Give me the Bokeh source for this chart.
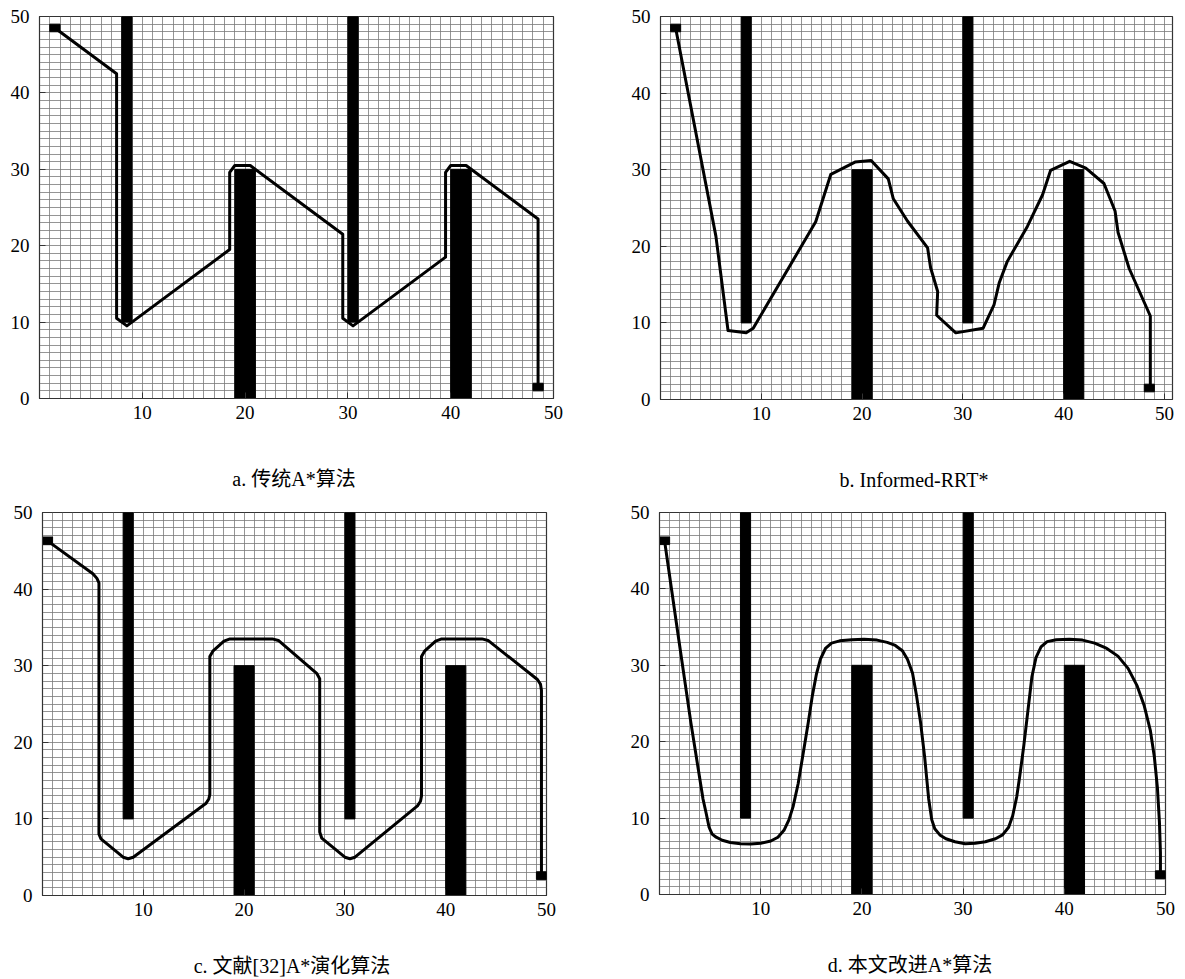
from bokeh.plotting import figure
from bokeh.layouts import column, row
from bokeh.models import FixedTicker, Title, Range1d
from bokeh.embed import file_html
from bokeh.resources import INLINE

# ---------------- data ----------------
obs_left = [8, 19, 30, 40]
obs_right = [9, 21, 31, 42]
obs_bottom = [10, 0, 10, 0]
obs_top = [50, 30, 50, 30]

x_ticks = [10, 20, 30, 40, 50]
y_ticks = [0, 10, 20, 30, 40, 50]

captions = ["a.  传统A*算法", "b.  Informed-RRT*", "c.  文献[32]A*演化算法", "d.  本文改进A*算法"]

# a. traditional A*
a_x = [1.5, 7.5, 7.5, 8.5, 18.5, 18.5, 19.0, 20.5, 29.5, 29.5, 30.5, 39.5, 39.5, 40.0, 41.5, 48.5, 48.5]
a_y = [48.5, 42.5, 10.5, 9.5, 19.5, 29.6, 30.5, 30.5, 21.5, 10.5, 9.5, 18.5, 29.6, 30.5, 30.5, 23.5, 1.5]
a_start = (1.5, 48.5)
a_goal = (48.5, 1.5)

# b. Informed-RRT*
b_x = [1.5, 5.5, 6.7, 8.5, 9.2, 15.4, 16.9, 19.3, 20.9, 22.6, 23.1, 24.5, 26.5, 26.8, 27.5, 27.4,
       29.3, 32.0, 33.1, 33.6, 34.4, 36.4, 37.9, 38.7, 40.6, 42.2, 44.0, 45.1, 45.4, 46.5, 48.6, 48.6]
b_y = [48.5, 21.3, 9.0, 8.7, 9.3, 23.2, 29.4, 31.0, 31.2, 28.8, 26.2, 23.3, 19.8, 17.2, 14.1, 11.0,
       8.7, 9.3, 12.4, 15.2, 18.0, 22.6, 26.7, 29.9, 31.1, 30.2, 28.2, 24.6, 21.8, 17.1, 10.9, 1.5]
b_start = (1.5, 48.5)
b_goal = (48.5, 1.5)

# c. reference [32] evolved A*
c_x = [0.5, 5.0, 5.4, 5.6, 5.6, 5.8, 8.0, 8.5, 9.0, 16.2, 16.5, 16.6, 16.6, 16.9, 18.0, 18.6,
       22.8, 23.4, 27.2, 27.5, 27.5, 27.7, 30.0, 30.5, 31.0, 37.2, 37.5, 37.6, 37.6, 37.9, 39.0,
       39.6, 43.6, 44.2, 49.1, 49.4, 49.5, 49.5]
c_y = [46.3, 42.0, 41.4, 40.8, 8.0, 7.4, 5.0, 4.8, 5.0, 12.0, 12.6, 13.2, 31.2, 31.9, 33.2, 33.5,
       33.5, 33.3, 29.0, 28.3, 8.3, 7.5, 5.0, 4.8, 5.0, 11.7, 12.3, 13.0, 31.2, 31.9, 33.2,
       33.5, 33.5, 33.3, 28.2, 27.6, 26.8, 2.6]
c_start = (0.5, 46.3)
c_goal = (49.5, 2.6)

# d. improved A* (this paper)
d_x = [0.5, 1.9, 3.1, 4.3, 4.6, 4.9, 5.2, 5.6, 6.2, 7.0, 8.0, 9.0, 10.0, 11.0, 11.7, 12.3, 12.8,
       13.2, 13.7, 14.2, 14.7, 15.1, 15.5, 15.9, 16.4, 17.0, 17.8, 19.0, 20.2, 21.5, 22.5, 23.3,
       24.0, 24.5, 25.0, 25.4, 25.8, 26.2, 26.6, 26.9, 27.2, 27.7, 28.3, 29.2, 30.2, 31.2, 32.2,
       33.2, 33.9, 34.5, 34.9, 35.3, 35.6, 36.0, 36.4, 36.8, 37.2, 37.7, 38.3, 39.2, 40.5, 41.8,
       43.0, 44.2, 45.3, 46.3, 47.2, 47.9, 48.5, 48.9, 49.2, 49.4, 49.5, 49.5]
d_y = [46.3, 33.4, 22.5, 12.5, 10.7, 8.8, 7.9, 7.5, 7.1, 6.8, 6.65, 6.6, 6.7, 7.0, 7.5, 8.4, 9.8,
       11.5, 14.5, 18.5, 22.5, 26.0, 28.8, 30.8, 32.2, 32.9, 33.2, 33.35, 33.4, 33.3, 33.0, 32.6,
       31.9, 30.8, 29.0, 26.0, 22.5, 18.0, 12.5, 9.8, 8.6, 7.8, 7.3, 6.9, 6.65, 6.7, 6.9,
       7.3, 7.8, 8.8, 10.3, 12.8, 15.5, 19.5, 24.0, 28.5, 31.0, 32.4, 33.1, 33.35, 33.4, 33.3,
       32.9, 32.2, 31.2, 29.6, 27.3, 24.7, 21.5, 18.0, 14.0, 9.5, 5.5, 2.6]
d_start = (0.5, 46.3)
d_goal = (49.5, 2.6)

SERIF = "Liberation Serif"
CAP_FONT = "Liberation Serif, Noto Sans CJK SC"


def panel(xmax, px, py, start, goal, caption, fw, fh, bl, br, bt, bb, gap, cap_dx):
    p = figure(frame_width=fw, frame_height=fh, min_border_left=bl, min_border_right=br,
               min_border_top=bt, min_border_bottom=bb,
               x_range=Range1d(0, xmax), y_range=Range1d(0, 50),
               output_backend="svg", toolbar_location=None, tools="")
    p.background_fill_color = "white"
    p.border_fill_color = "white"
    p.outline_line_color = "#333333"
    p.outline_line_width = 1.2

    for ax in (p.xaxis[0], p.yaxis[0]):
        ax.axis_line_color = "#333333"
        ax.major_tick_in = 6
        ax.major_tick_out = 0
        ax.minor_tick_line_color = None
        ax.major_tick_line_color = "#333333"
        ax.major_label_text_font = SERIF
        ax.major_label_text_font_size = "19px"
        ax.major_label_text_color = "black"
    p.xaxis[0].ticker = FixedTicker(ticks=x_ticks)
    p.yaxis[0].ticker = FixedTicker(ticks=y_ticks)
    p.xaxis[0].major_label_standoff = 7
    p.yaxis[0].major_label_standoff = 10

    p.xgrid[0].ticker = FixedTicker(ticks=list(range(0, 51)))
    p.ygrid[0].ticker = FixedTicker(ticks=list(range(0, 51)))
    for g in (p.xgrid[0], p.ygrid[0]):
        g.grid_line_color = "#7a7a7a"
        g.grid_line_width = 0.8
        g.grid_line_alpha = 1.0

    p.quad(left=obs_left, right=obs_right, bottom=obs_bottom, top=obs_top,
           fill_color="black", line_color="black")
    p.line(px, py, line_color="black", line_width=3, line_join="round", line_cap="round")
    p.rect(x=[start[0], goal[0]], y=[start[1], goal[1]], width=1, height=1,
           fill_color="black", line_color="black")

    spacer = Title(text=" ", text_font_size=f"{gap}px", standoff=0)
    p.add_layout(spacer, "below")
    cap = Title(text=caption, align="center", offset=cap_dx, text_font=CAP_FONT,
                text_font_size="20px", text_font_style="normal", text_color="black", standoff=0)
    p.add_layout(cap, "below")
    return p


pa = panel(50, a_x, a_y, a_start, a_goal, captions[0], 514, 382, 39, 47, 16, 92, 38, 4)
pb = panel(50.8, b_x, b_y, b_start, b_goal, captions[1], 512, 383, 60, 13, 15, 92, 38, 5)
pc = panel(50, c_x, c_y, c_start, c_goal, captions[2], 504, 383, 42, 54, 21, 84, 29, 6)
pd = panel(50, d_x, d_y, d_start, d_goal, captions[3], 506, 382, 59, 20, 22, 84, 29, 8)

layout = column(row(pa, pb, spacing=0), row(pc, pd, spacing=0), spacing=0)
open("out.html", "w").write(file_html(layout, INLINE))
